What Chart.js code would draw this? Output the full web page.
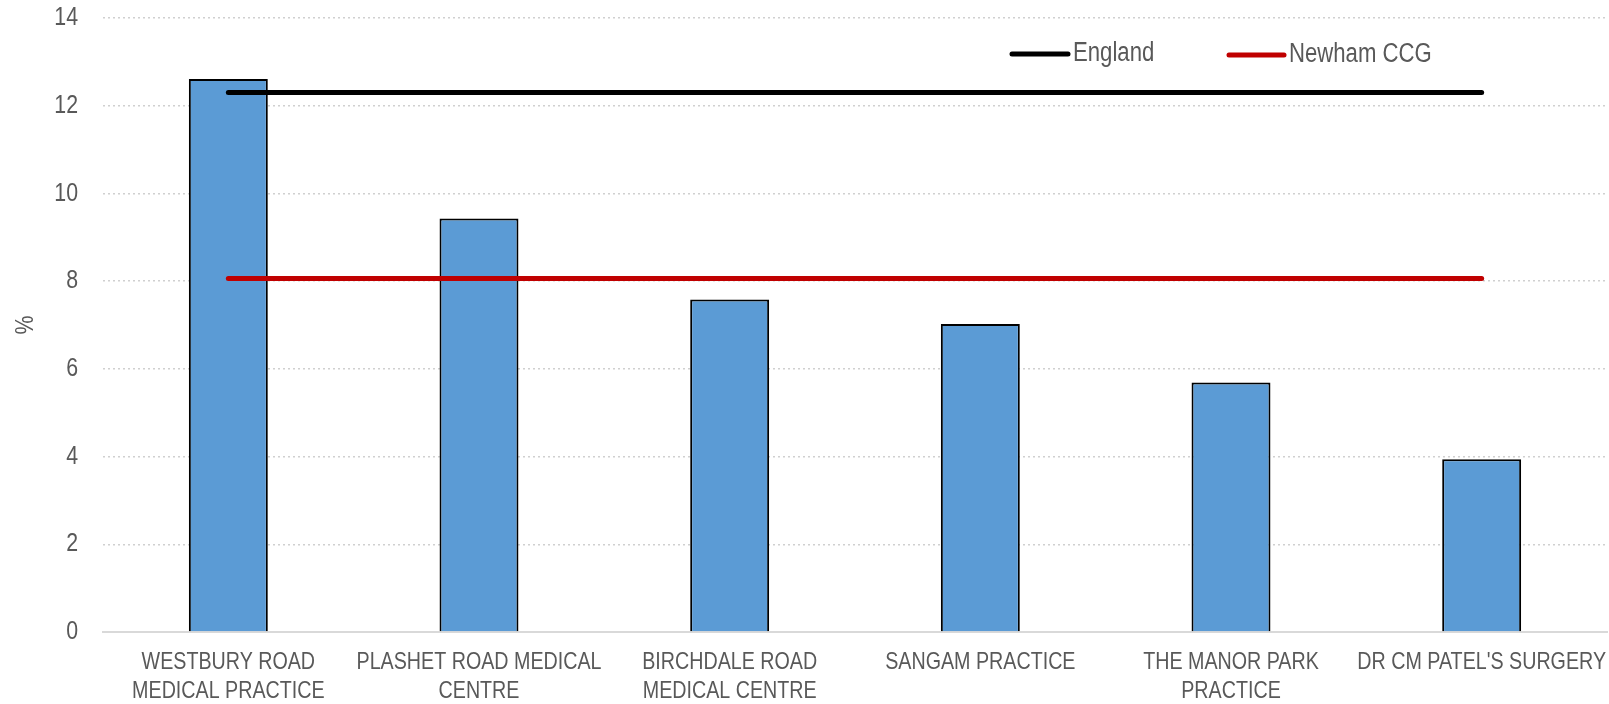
<!DOCTYPE html>
<html>
<head>
<meta charset="utf-8">
<script src="https://cdn.jsdelivr.net/npm/chart.js@4.4.1/dist/chart.umd.min.js"></script>
<style>
html,body{margin:0;padding:0;background:#fff;}
#wrap{width:1609px;height:704px;position:relative;}
</style>
</head>
<body>
<div id="wrap"><canvas id="c" width="1609" height="704"></canvas></div>
<script>
const categories = [
  ["WESTBURY ROAD", "MEDICAL PRACTICE"],
  ["PLASHET ROAD MEDICAL", "CENTRE"],
  ["BIRCHDALE ROAD", "MEDICAL CENTRE"],
  "SANGAM PRACTICE",
  ["THE MANOR PARK", "PRACTICE"],
  "DR CM PATEL'S SURGERY"
];
const practiceValues = [12.61, 9.43, 7.58, 7.02, 5.69, 3.94];
const englandValues = [12.30, 12.30, 12.30, 12.30, 12.30, 12.30];
const newhamValues = [8.06, 8.06, 8.06, 8.06, 8.06, 8.06];
const yTicks = [0, 2, 4, 6, 8, 10, 12, 14];
const seriesNames = ["Practice", "England", "Newham CCG"];

function fontExists(name) {
  const c = document.createElement('canvas').getContext('2d');
  const s = 'WESTBURY ROAD abcdefg 0123';
  c.font = '100px monospace';
  const a = c.measureText(s).width;
  c.font = "100px '" + name + "', monospace";
  return Math.abs(c.measureText(s).width - a) > 0.5;
}
const HAS_NARROW = fontExists('Liberation Sans Narrow');
const FONT = HAS_NARROW ? "'Liberation Sans Narrow', 'Liberation Sans', sans-serif" : "'Liberation Sans', Arial, sans-serif";
const SQUEEZE = HAS_NARROW ? 1 : 0.82;
const TXT = '#595959';

const squeezePlugin = {
  id: 'squeeze',
  beforeDraw(chart) {
    const ctx = chart.ctx;
    if (SQUEEZE === 1 || ctx.__squeezed) return;
    const orig = ctx.fillText.bind(ctx);
    ctx.fillText = function (text, x, y, maxWidth) {
      ctx.save();
      ctx.translate(x, y);
      ctx.scale(SQUEEZE, 1);
      orig(text, 0, 0);
      ctx.restore();
    };
    ctx.__squeezed = true;
  }
};

const legendPlugin = {
  id: 'customLegend',
  afterDraw(chart) {
    const ctx = chart.ctx;
    const items = [
      {ds: chart.data.datasets[1], x1: 1012, x2: 1068, y: 54, tx: 1073},
      {ds: chart.data.datasets[2], x1: 1229, x2: 1284, y: 55, tx: 1289}
    ];
    ctx.save();
    items.forEach(it => {
      ctx.strokeStyle = it.ds.borderColor;
      ctx.lineWidth = 5;
      ctx.lineCap = 'round';
      ctx.beginPath();
      ctx.moveTo(it.x1, it.y);
      ctx.lineTo(it.x2, it.y);
      ctx.stroke();
      ctx.fillStyle = TXT;
      ctx.font = "27px " + FONT;
      ctx.textBaseline = 'middle';
      ctx.textAlign = 'left';
      ctx.fillText(it.ds.label, it.tx, it.y);
    });
    ctx.restore();
  }
};

new Chart(document.getElementById('c'), {
  data: {
    labels: categories,
    datasets: [
      {
        type: 'bar',
        label: seriesNames[0],
        data: practiceValues,
        backgroundColor: '#5b9bd5',
        borderColor: '#000000',
        borderWidth: 2,
        borderSkipped: 'start',
        barPercentage: 0.315,
        categoryPercentage: 1.0,
        order: 2
      },
      {
        type: 'line',
        label: seriesNames[1],
        data: englandValues,
        borderColor: '#000000',
        borderWidth: 5,
        borderCapStyle: 'round',
        pointRadius: 0,
        fill: false,
        order: 1
      },
      {
        type: 'line',
        label: seriesNames[2],
        data: newhamValues,
        borderColor: '#c00000',
        borderWidth: 5,
        borderCapStyle: 'round',
        pointRadius: 0,
        fill: false,
        order: 0
      }
    ]
  },
  options: {
    responsive: false,
    animation: false,
    layout: { padding: { top: 18, right: 2, left: 0, bottom: 0 } },
    plugins: {
      legend: { display: false },
      tooltip: { enabled: false }
    },
    scales: {
      x: {
        grid: { display: false, drawTicks: false },
        border: { display: true, color: '#d9d9d9', width: 2 },
        ticks: {
          color: TXT,
          font: { family: FONT, size: 24, lineHeight: 1.2 },
          padding: 16,
          maxRotation: 0,
          minRotation: 0,
          autoSkip: false
        },
        afterFit(scale) {
          scale.height = 72;
          scale.paddingLeft = 0;
          scale.paddingRight = 0;
        }
      },
      y: {
        min: 0,
        max: 14,
        afterBuildTicks(scale) { scale.ticks = yTicks.map(v => ({ value: v })); },
        grid: { color: '#d0d0d0', lineWidth: 1.5, drawTicks: false },
        border: { display: false, dash: [2, 3] },
        ticks: {
          color: TXT,
          font: { family: FONT, size: 26 },
          padding: 25
        },
        title: {
          display: true,
          text: '%',
          color: TXT,
          font: { family: FONT, size: 26 },
          padding: { top: 10, bottom: 0 }
        },
        afterFit(scale) {
          scale.width = 103;
          scale.paddingTop = 0;
          scale.paddingBottom = 0;
        }
      }
    }
  },
  plugins: [squeezePlugin, legendPlugin]
});
</script>
</body>
</html>
